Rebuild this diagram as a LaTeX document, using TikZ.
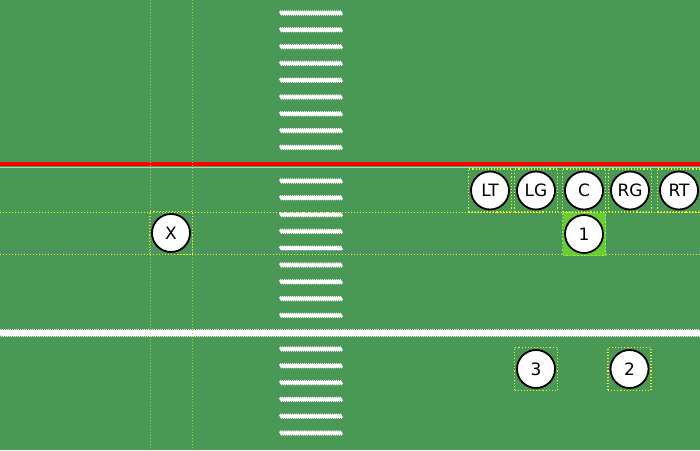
\documentclass[tikz,border=0pt]{standalone}
\usepackage{fontspec}
\setmainfont{DejaVu Sans}
\usetikzlibrary{decorations.pathmorphing}
\definecolor{turf}{RGB}{74,152,86}
\definecolor{zoneyellow}{RGB}{240,240,40}
\definecolor{guide}{RGB}{170,205,70}
\definecolor{hotgreen}{RGB}{104,204,52}
\definecolor{hotedge}{RGB}{150,240,80}
\definecolor{snapline}{RGB}{80,120,200}

\begin{document}
\begin{tikzpicture}[x=1pt,y=-1pt,
  player/.style={circle,draw=black,line width=1.8pt,fill=white,minimum size=38pt,inner sep=0pt,font=\fontsize{17}{17}\selectfont},
  zone/.style={draw=zoneyellow,dotted,line width=1.1pt,minimum width=43pt,minimum height=43pt,inner sep=0pt},
  hash/.style={white,line width=2.4pt,decorate,decoration={zigzag,amplitude=0.7pt,segment length=2pt}}]
  % field
  \fill[turf] (0,0) rectangle (700,450);
  \useasboundingbox (0,0) rectangle (700,450);
  \foreach \k in {0,...,8,10,11,...,18,20,21,...,25}
    \draw[hash] (280,13+16.8*\k) -- (342,13+16.8*\k);
  \draw[white,line width=3.5pt,decorate,decoration={zigzag,amplitude=0.8pt,segment length=2pt}] (0,333) -- (700,333);
  \draw[white,opacity=0.6,line width=1pt] (0,167) -- (700,167);
  \draw[red,line width=4pt] (0,164) -- (700,164);
  % guide lines
  \draw[guide,dotted,line width=1pt] (150,0) -- (150,450);
  \draw[guide,dotted,line width=1pt] (192,0) -- (192,450);
  \draw[snapline,opacity=0.5,line width=0.6pt] (0,250) -- (700,250);
  \draw[zoneyellow,dotted,line width=1pt] (0,212) -- (700,212);
  \draw[zoneyellow,dotted,line width=1pt] (0,254) -- (700,254);
  % zones
  \node[zone] (bX) at (171,233) {};
  \node[zone] (bLT) at (490,190.5) {};
  \node[zone] (bLG) at (536,190.5) {};
  \node[zone] (bC) at (584,190.5) {};
  \node[zone] (bRG) at (630,190.5) {};
  \node[zone] (bRT) at (679,190.5) {};
  \node[zone,draw=hotedge,fill=hotgreen,line width=1.6pt] (b1) at (584,234) {};
  \node[zone] (b3) at (536,369) {};
  \node[zone] (b2) at (629.5,369) {};
  % players
  \node[player] (X) at (bX) {X};
  \node[player] (LT) at (bLT) {LT};
  \node[player] (LG) at (bLG) {LG};
  \node[player] (C) at (bC) {C};
  \node[player] (RG) at (bRG) {RG};
  \node[player] (RT) at (bRT) {RT};
  \node[player] (P1) at (b1) {1};
  \node[player] (P3) at (b3) {3};
  \node[player] (P2) at (b2) {2};
\end{tikzpicture}
\end{document}
